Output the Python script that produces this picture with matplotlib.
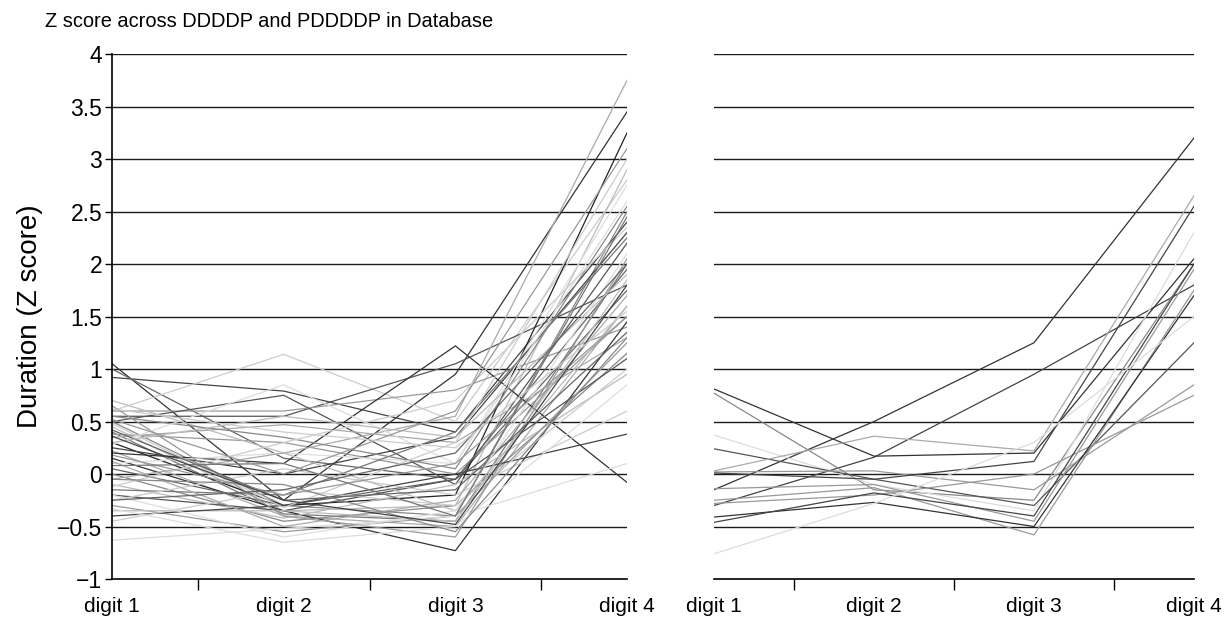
import numpy as np
import matplotlib.pyplot as plt

plt.rcParams['font.family'] = ['Liberation Sans', 'DejaVu Sans']

# --- data ---
categories = ['digit 1', 'digit 2', 'digit 3', 'digit 4']

# left panel (DDDDP): one row per item, z score at digit 1..4
left_values = [
    [1.05, -0.25, 0.95, 3.45],
    [0.92, 0.79, 0.40, 2.40],
    [1.00, 0.15, -0.05, 1.75],
    [0.60, 1.14, 0.50, 2.80],
    [0.55, 0.55, 1.05, 1.80],
    [0.60, 0.60, 0.80, 1.40],
    [0.50, 0.75, -0.10, 2.20],
    [0.50, -0.30, -0.40, 2.50],
    [0.45, -0.35, -0.30, 2.90],
    [0.40, -0.38, -0.45, 2.00],
    [0.38, 0.30, 0.00, 1.50],
    [0.35, 0.47, 0.30, 1.30],
    [0.30, -0.30, -0.20, 3.25],
    [0.25, 0.00, 0.35, 2.30],
    [0.22, -0.40, -0.50, 1.60],
    [0.20, 0.10, 1.22, -0.08],
    [0.15, -0.35, -0.73, 1.45],
    [0.10, 0.20, 0.10, 2.75],
    [0.05, -0.30, -0.05, 1.95],
    [0.00, -0.45, -0.30, 1.15],
    [-0.05, 0.20, 0.55, 3.75],
    [-0.10, -0.42, -0.10, 0.95],
    [-0.15, -0.20, 0.40, 2.25],
    [-0.20, -0.35, -0.05, 1.10],
    [-0.25, 0.05, -0.20, 0.60],
    [-0.30, -0.55, -0.40, 1.25],
    [-0.35, -0.35, -0.45, 1.85],
    [-0.40, -0.30, 0.00, 0.38],
    [-0.45, -0.15, -0.30, 1.00],
    [-0.63, -0.52, -0.40, 0.10],
    [0.65, -0.40, -0.60, 2.05],
    [0.70, 0.20, -0.35, 1.60],
    [0.55, 0.35, 0.05, 2.55],
    [0.48, -0.32, 0.30, 3.00],
    [0.28, 0.85, 0.10, 2.60],
    [0.12, -0.50, -0.25, 1.70],
    [-0.12, 0.30, 0.70, 2.35],
    [0.42, -0.25, -0.15, 1.35],
    [0.30, 0.55, 0.35, 1.90],
    [-0.20, -0.60, -0.35, 2.10],
    [0.18, -0.20, 0.10, 1.50],
    [0.08, 0.10, -0.40, 2.45],
    [-0.33, -0.65, -0.50, 0.85],
    [0.52, 0.00, 0.60, 3.10],
    [-0.05, -0.10, -0.55, 1.30],
    [0.36, -0.25, -0.48, 1.80],
    [-0.25, -0.15, 0.20, 2.00],
    [0.62, 0.40, 0.25, 1.55],
]
left_grays = ['#333', '#444', '#666', '#ccc', '#555', '#999', '#555', '#888',
              '#bbb', '#777', '#999', '#aaa', '#222', '#444', '#aaa', '#333',
              '#333', '#ddd', '#666', '#888', '#aaa', '#bbb', '#777', '#555',
              '#ccc', '#999', '#bbb', '#444', '#ccc', '#ddd', '#999', '#bbb',
              '#888', '#ccc', '#ddd', '#aaa', '#ccc', '#666', '#bbb', '#ddd',
              '#999', '#777', '#ddd', '#999', '#888', '#444', '#666', '#ccc']

# right panel (PDDDDP)
right_values = [
    [-0.15, 0.50, 1.25, 3.20],
    [-0.30, 0.16, 0.95, 1.80],
    [0.81, 0.17, 0.20, 2.05],
    [0.77, -0.15, -0.25, 2.00],
    [0.37, -0.10, -0.35, 2.30],
    [0.24, -0.05, -0.30, 1.25],
    [0.03, 0.36, 0.22, 2.65],
    [0.02, 0.03, -0.15, 0.85],
    [0.01, -0.05, 0.12, 2.55],
    [-0.14, -0.10, -0.45, 1.95],
    [-0.25, -0.13, -0.58, 1.75],
    [-0.28, -0.20, 0.00, 0.75],
    [-0.41, -0.27, -0.50, 1.70],
    [-0.46, -0.18, -0.40, 2.00],
    [-0.76, -0.28, 0.30, 1.50],
]
right_grays = ['#333', '#444', '#333', '#888', '#ddd', '#555', '#aaa', '#999',
               '#444', '#999', '#999', '#999', '#333', '#444', '#ddd']

y_ticks = np.arange(-1, 4.01, 0.5)


def tick_text(v):
    s = f'{v:g}'
    return s.replace('-', '\u2212')


def draw_panel(ax, values, grays, show_y):
    x = np.arange(len(categories))
    # horizontal reference lines
    for yv in y_ticks[1:]:
        ax.axhline(yv, color='#1a1a1a', lw=1.0, zorder=1)
    for row, g in zip(values, grays):
        ax.plot(x, row, color=g, lw=0.9, zorder=2)

    ax.set_xlim(0, len(categories) - 1)
    ax.set_ylim(-1, 4)
    ax.set_xticks(x)
    ax.set_xticklabels(categories, fontsize=15)
    ax.set_xticks(x[:-1] + 0.5, minor=True)
    ax.tick_params(axis='x', which='major', length=0, pad=13)
    ax.tick_params(axis='x', which='minor', length=8, width=1, direction='out')

    for s in ['top', 'right']:
        ax.spines[s].set_visible(False)
    ax.spines['bottom'].set_linewidth(1.2)
    if show_y:
        ax.set_yticks(y_ticks)
        ax.set_yticklabels([tick_text(v) for v in y_ticks], fontsize=16.5)
        ax.tick_params(axis='y', length=5, width=1, direction='out', pad=2)
        ax.spines['left'].set_linewidth(1.2)
    else:
        ax.set_yticks([])
        ax.spines['left'].set_visible(False)


fig = plt.figure(figsize=(12.3, 6.24), dpi=100)
ax1 = fig.add_axes([0.0911, 0.0721, 0.4187, 0.8413])
ax2 = fig.add_axes([0.5805, 0.0721, 0.3902, 0.8413])

draw_panel(ax1, left_values, left_grays, True)
draw_panel(ax2, right_values, right_grays, False)

fig.text(0.0366, 0.965, 'Z score across DDDDP and PDDDDP in Database',
         fontsize=14.4, ha='left', va='center')
fig.text(0.024, 0.494, 'Duration (Z score)', fontsize=20, rotation=90,
         ha='center', va='center')

fig.savefig('out.png', dpi=100)
